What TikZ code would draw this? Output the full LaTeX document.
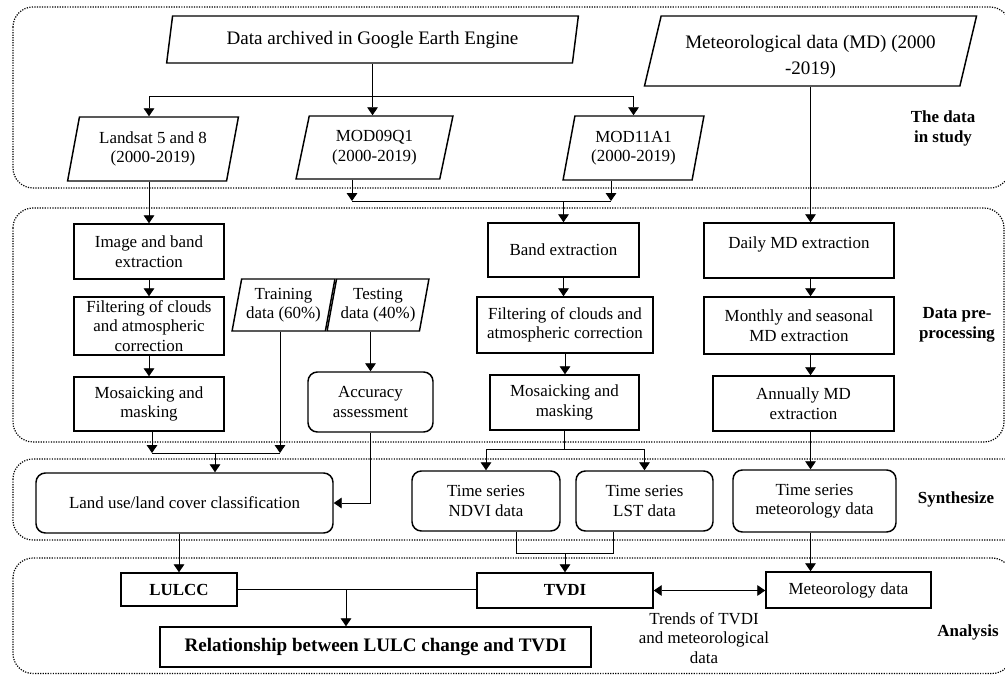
\documentclass[tikz,border=0pt]{standalone}
\usepackage{fontspec}
\setmainfont{Liberation Serif}
\usetikzlibrary{arrows.meta, shapes.geometric}

\begin{document}
\begin{tikzpicture}[x=0.75pt, y=-0.75pt,
	boxsize/.style 2 args={minimum width=#1*0.75pt, minimum height=#2*0.75pt},
	txt/.style={font=\fontsize{12.7pt}{14.6pt}\selectfont},
	bigtxt/.style={font=\fontsize{14.3pt}{17pt}\selectfont},
	strong/.style={font=\fontsize{12.7pt}{14.6pt}\selectfont\bfseries},
	databox/.style={draw, line width=1.1pt, trapezium, trapezium left angle=76, trapezium right angle=104, trapezium stretches=true, align=center, inner sep=0pt, txt},
	procbox/.style={draw, line width=1.1pt, rectangle, align=center, inner sep=0pt, txt},
	roundbox/.style={procbox, rounded corners=7pt},
	group/.style={densely dotted, line width=0.9pt, rounded corners=15pt},
	phase/.style={align=center, font=\fontsize{12.7pt}{15pt}\selectfont\bfseries},
	link/.style={line width=0.7pt},
	arr/.style={link, -{Triangle[length=6pt, width=8pt]}},
	]
	
	\useasboundingbox (0,0) rectangle (1005,675);
	
	\draw[group] (13,7) rectangle (1010,188);
	\draw[group] (13,208) rectangle (1004,442);
	\draw[group] (13,459) rectangle (1025,540);
	\draw[group] (13,558) rectangle (1012,673.5);
	
	\node[databox, bigtxt, boxsize={413}{47}] (gee) at (372.5,39.5) {Data archived in Google Earth Engine};
	\node[databox, boxsize={333}{70}, font=\fontsize{14.3pt}{20pt}\selectfont] (md) at (810.5,51) {\rule{0pt}{19pt}Meteorological data (MD) (2000\\-2019)};
	\node[databox, boxsize={172}{64}] (landsat) at (153,149) {Landsat 5 and 8\\(2000-2019)};
	\node[databox, boxsize={157}{63}] (modq) at (374.5,147.5) {MOD09Q1\\(2000-2019)};
	\node[databox, boxsize={141}{64}] (moda) at (633.5,148) {MOD11A1\\(2000-2019)};
	
	\node[procbox, boxsize={150}{55}] (img) at (149,251.5) {Image and band\\extraction};
	\node[procbox, boxsize={150}{58}] (filt1) at (149,326) {Filtering of clouds\\and atmospheric\\correction};
	\node[procbox, boxsize={150}{54}] (mos1) at (149,404) {Mosaicking and\\masking};
	\node[databox, boxsize={103}{52}] (train) at (283.5,305) {Training\\data (60\%)};
	\node[databox, boxsize={102}{52}] (test) at (378,305) {Testing\\data (40\%)};
	\node[roundbox, boxsize={125}{60}] (acc) at (370.5,402) {Accuracy\\assessment};
	
	\node[procbox, boxsize={151}{54}] (band) at (563.5,250) {Band extraction};
	\node[procbox, boxsize={176}{56}] (filt2) at (565,325) {Filtering of clouds and\\atmospheric correction};
	\node[procbox, boxsize={149}{55}] (mos2) at (564.5,402.5) {Mosaicking and\\masking};
	
	\node[procbox, boxsize={190}{55}, text height=9pt, text depth=12pt] (daily) at (799,250.5) {Daily MD extraction};
	\node[procbox, boxsize={190}{57}] (monthly) at (799,325.5) {Monthly and seasonal\\MD extraction};
	\node[procbox, boxsize={181}{55}] (annual) at (803.5,403.5) {Annually MD\\extraction};
	
	\node[roundbox, boxsize={297}{60}] (lulc) at (184.5,503) {Land use/land cover classification};
	\node[roundbox, boxsize={148}{60}] (ndvi) at (486,501) {Time series\\NDVI data};
	\node[roundbox, boxsize={137}{60}] (lst) at (644.5,501) {Time series\\LST data};
	\node[roundbox, boxsize={163}{62}] (tsmet) at (814.5,501) {Time series\\meteorology data};
	
	\node[procbox, strong, boxsize={116}{33}] (lulcc) at (179,589.5) {LULCC};
	\node[procbox, strong, boxsize={176}{35}] (tvdi) at (565,590.5) {TVDI};
	\node[procbox, boxsize={165}{36}] (metd) at (848.5,590) {Meteorology data};
	\node[procbox, boxsize={431}{40}, font=\fontsize{14.3pt}{17pt}\selectfont\bfseries] (rel) at (375.5,647) {Relationship between LULC change and TVDI};
	\node[txt, align=center] (trend) at (704,638) {Trends of TVDI\\and meteorological\\data};
	
	\node[phase] (p1) at (943,128) {The data\\in study};
	\node[phase] (p2) at (957,325) {Data pre-\\processing};
	\node[phase] (p3) at (956,499) {Synthesize};
	\node[phase] (p4) at (968,632) {Analysis};
	
	\coordinate (split1) at (372.5,96);
	\draw[arr] (gee.south) -- (gee.south |- modq.north);
	\draw[arr] (split1) -| (img.north |- landsat.north);
	\draw[arr] (split1) -| (moda.north);
	
	\coordinate (join1) at (352,201);
	\coordinate (join2) at (611,201);
	\draw[arr] (modq.south -| join1) -- (join1);
	\draw[arr] (moda.south -| join2) -- (join2);
	\draw[link] (join1) -- (join2);
	\draw[arr] (band.north |- join1) -- (band.north);
	
	\draw[arr] (landsat.south -| img.north) -- (img.north);
	\draw[arr] (img) -- (filt1);
	\draw[arr] (filt1) -- (mos1);
	\draw[arr] (acc.north |- test.south) -- (acc.north);
	
	\draw[arr] (band.south) -- (band.south |- filt2.north);
	\draw[arr] (filt2.south) -- (filt2.south |- mos2.north);
	
	\draw[arr] (md.south) -- (md.south |- daily.north);
	\draw[arr] (md.south |- daily.south) -- (md.south |- monthly.north);
	\draw[arr] (md.south |- monthly.south) -- (md.south |- annual.north);
	\draw[arr] (md.south |- annual.south) -- (md.south |- tsmet.north);
	\draw[arr] (md.south |- tsmet.south) -- (md.south |- metd.north);
	
	\coordinate (join3) at (152,453);
	\coordinate (join4) at (280,453);
	\coordinate (join5) at (215,453);
	\draw[arr] (mos1.south -| join3) -- (join3);
	\draw[arr] (train.south -| join4) -- (join4);
	\draw[link] (join3) -- (join4);
	\draw[arr] (join5) -- (join5 |- lulc.north);
	\draw[arr] (acc.south) |- (lulc.east);
	
	\coordinate (split2) at (564.5,449);
	\draw[link] (mos2.south) -- (split2);
	\draw[arr] (split2) -| (ndvi.north);
	\draw[arr] (split2) -| (lst.north);
	
	\coordinate (join6) at (516,553);
	\coordinate (join7) at (613,553);
	\draw[link] (ndvi.south -| join6) -- (join6) -- (join7) -- (lst.south -| join7);
	\draw[arr] (tvdi.north |- join6) -- (tvdi.north);
	
	\draw[arr] (lulcc.north |- lulc.south) -- (lulcc.north);
	\coordinate (join8) at (346,589.5);
	\draw[link] (lulcc.east) -- (lulcc.east -| tvdi.west);
	\draw[arr] (join8) -- (join8 |- rel.north);
	\draw[link, {Triangle[length=6pt, width=8pt]}-{Triangle[length=6pt, width=8pt]}] (tvdi.east) -- (tvdi.east -| metd.west);
	
\end{tikzpicture}
\end{document}
